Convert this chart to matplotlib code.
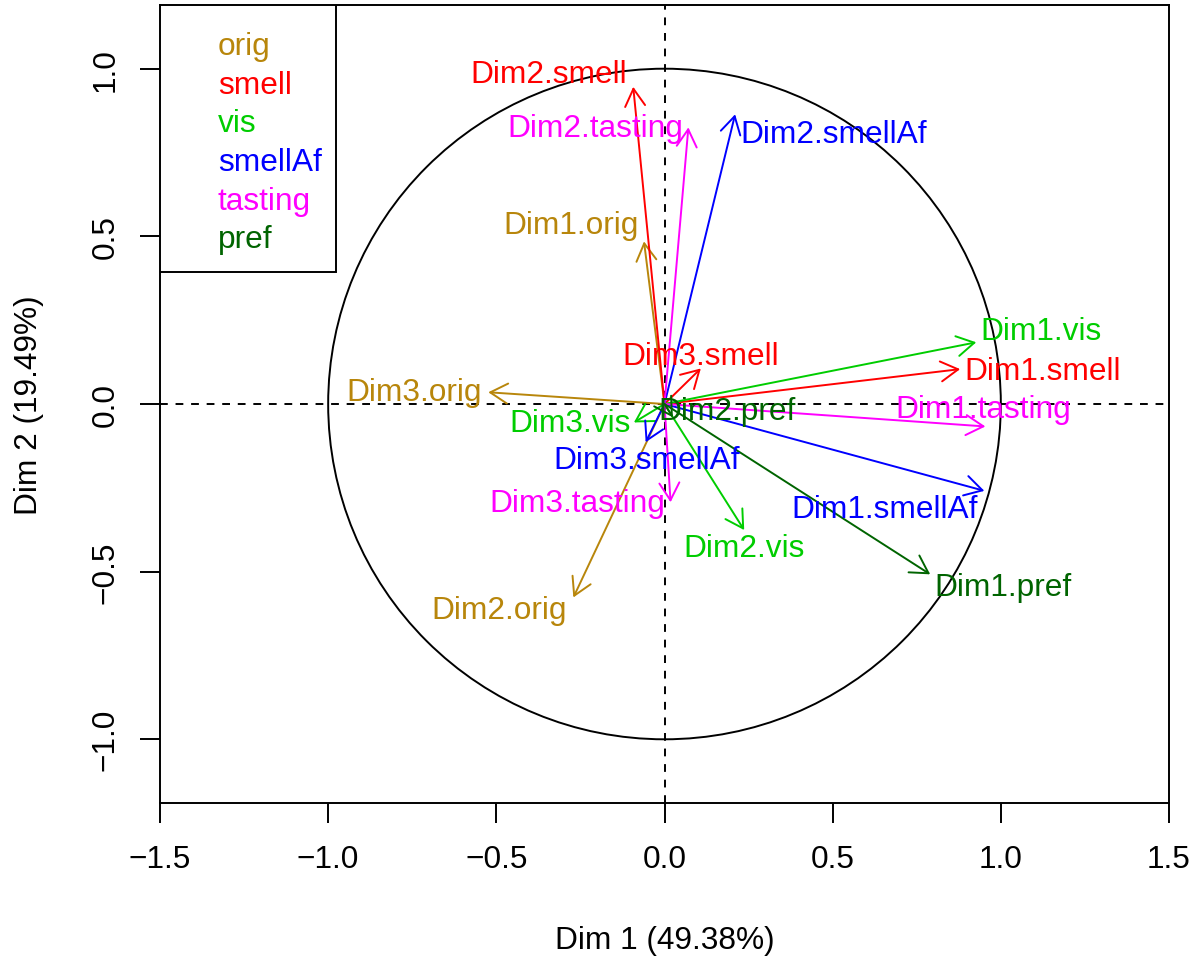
import matplotlib
matplotlib.use("Agg")
import matplotlib.pyplot as plt
from matplotlib.patches import Circle, Rectangle, FancyArrowPatch, ArrowStyle

# Groups of the multiple factor analysis and their colours
groups = ["orig", "smell", "vis", "smellAf", "tasting", "pref"]
group_colors = ["#B8860B", "#FF0000", "#00CD00", "#0000FF", "#FF00FF", "#006400"]

# Partial axes: group, dimension and coordinates on the first factorial plane
axis_group = ["orig", "orig", "orig",
              "smell", "smell", "smell",
              "vis", "vis", "vis",
              "smellAf", "smellAf", "smellAf",
              "tasting", "tasting", "tasting",
              "pref", "pref"]
axis_dim = [1, 2, 3, 1, 2, 3, 1, 2, 3, 1, 2, 3, 1, 2, 3, 1, 2]
axis_x = [-0.061, -0.271, -0.524,
          0.879, -0.093, 0.108,
          0.927, 0.237, -0.091,
          0.951, 0.210, -0.056,
          0.954, 0.071, 0.018,
          0.790, 0.025]
axis_y = [0.485, -0.577, 0.035,
          0.104, 0.946, 0.106,
          0.184, -0.376, -0.055,
          -0.259, 0.864, -0.114,
          -0.067, 0.825, -0.293,
          -0.508, -0.040]

# Label anchor points (text baseline centre), in data units
label_x = [-0.279, -0.491, -0.743,
           1.125, -0.343, 0.109,
           1.119, 0.236, -0.282,
           0.653, 0.504, -0.054,
           0.947, -0.207, -0.258,
           1.007, 0.186]
label_y = [0.509, -0.637, 0.0125,
           0.074, 0.961, 0.119,
           0.194, -0.452, -0.082,
           -0.338, 0.782, -0.192,
           -0.038, 0.800, -0.319,
           -0.569, -0.045]

x_ticks = [-1.5, -1.0, -0.5, 0.0, 0.5, 1.0, 1.5]
y_ticks = [-1.0, -0.5, 0.0, 0.5, 1.0]
x_title = "Dim 1 (49.38%)"
y_title = "Dim 2 (19.49%)"

FS = 22.8
LW = 1.4
plt.rcParams["font.family"] = ["Liberation Sans", "DejaVu Sans"]
plt.rcParams["font.size"] = FS

W, H = 1199, 962
fig = plt.figure(figsize=(W / 100, H / 100), dpi=100)
left_px, right_px, top_px, bottom_px = 160, 1169, 6, 804
ax = fig.add_axes([left_px / W, 1 - bottom_px / H,
                   (right_px - left_px) / W, (bottom_px - top_px) / H])
ax.set_xlim(-1.5, 1.5)
ax.set_ylim(-1.19, 1.19)

for sp in ax.spines.values():
    sp.set_linewidth(LW)
    sp.set_color("black")

ax.set_xticks(x_ticks)
ax.set_yticks(y_ticks)
ax.set_xticklabels([f"{v:.1f}".replace("-", "\u2212") for v in x_ticks])
ax.set_yticklabels([f"{v:.1f}".replace("-", "\u2212") for v in y_ticks])
ax.tick_params(axis="both", direction="out", length=14.4, width=LW,
               labelsize=FS, colors="black")
ax.tick_params(axis="x", pad=15)
ax.tick_params(axis="y", pad=14, labelrotation=90)
for lab in ax.get_yticklabels():
    lab.set_va("center")

ax.set_xlabel(x_title, fontsize=FS, va="baseline", ha="center")
ax.xaxis.set_label_coords(0.5, (bottom_px - 949.3) / (bottom_px - top_px))
ax.set_ylabel(y_title, fontsize=FS, va="baseline", ha="center",
              rotation_mode="anchor")
ax.yaxis.set_label_coords((37 - left_px) / (right_px - left_px), 0.5)

# Unit correlation circle and the two reference lines
ax.add_patch(Circle((0, 0), 1.0, fill=False, lw=LW, color="black", zorder=1))
ax.axhline(0, color="black", lw=LW, ls=(0, (4, 4)), zorder=1)
ax.axvline(0, color="black", lw=LW, ls=(0, (4, 4)), zorder=1)

color_of = dict(zip(groups, group_colors))
head = ArrowStyle("->", head_length=12.5, head_width=7.2)
for g, d, x, y in zip(axis_group, axis_dim, axis_x, axis_y):
    arr = FancyArrowPatch((0, 0), (x, y), arrowstyle=head, mutation_scale=1,
                          shrinkA=0, shrinkB=0, lw=LW, color=color_of[g],
                          zorder=2)
    ax.add_patch(arr)

for g, d, lx, ly in zip(axis_group, axis_dim, label_x, label_y):
    ax.text(lx, ly, f"Dim{d}.{g}", color=color_of[g], fontsize=FS,
            ha="center", va="baseline", zorder=3)

# Group legend in the top-left corner
box_w = (336 - left_px) / (right_px - left_px)
box_h = (273 - top_px) / (bottom_px - top_px)
ax.add_patch(Rectangle((0, 1 - box_h), box_w, box_h, transform=ax.transAxes,
                       facecolor="white", edgecolor="black", lw=LW, zorder=4))
text_x = (218 - left_px) / (right_px - left_px)
first_base = 55.0
step = 38.65
for i, (g, c) in enumerate(zip(groups, group_colors)):
    by = first_base + i * step
    ax.text(text_x, 1 - (by - top_px) / (bottom_px - top_px), g, color=c,
            fontsize=FS, ha="left", va="baseline", transform=ax.transAxes,
            zorder=5)

fig.savefig("out.png", dpi=100, facecolor="white")
